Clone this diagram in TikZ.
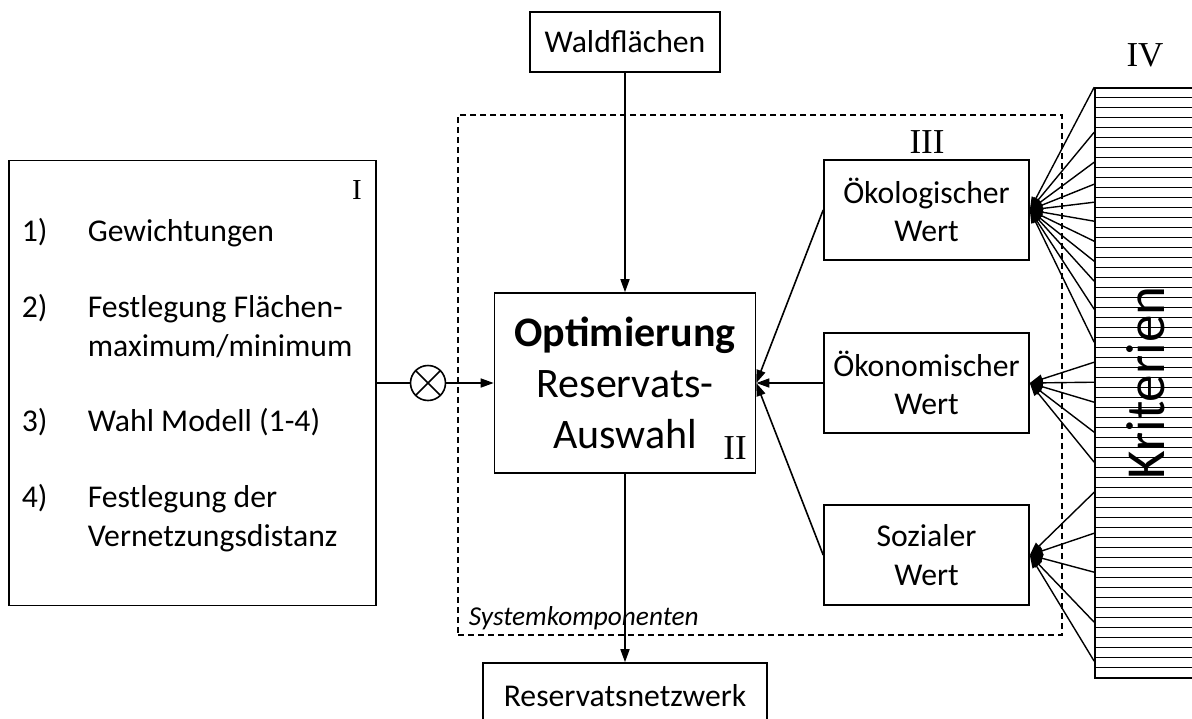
\documentclass[tikz,border=0pt]{standalone}
\usepackage{fontspec}
\setmainfont{Carlito}
\newfontfamily\romfont{Liberation Serif}
\usetikzlibrary{arrows.meta,positioning}
\definecolor{ink}{HTML}{000000}
\newcommand{\txtsize}{\fontsize{31.7}{38.7}\selectfont}
\newcommand{\bigsize}{\fontsize{42}{51}\selectfont}
\tikzset{
  >={Triangle[length=13pt,width=9pt]},
  every picture/.style={line width=1.6pt,draw=ink},
  bx/.style={draw=ink,rectangle,inner sep=0pt,align=center,font=\txtsize},
  valbx/.style={bx,minimum width=205pt,minimum height=100pt},
  num/.style={font=\romfont\fontsize{35}{35}\selectfont,inner sep=0pt},
  arr/.style={->,draw=ink},
  fan/.style={->,draw=ink,line width=1.4pt},
  stripe/.style={draw=ink,line width=1.2pt},
  sysbox/.style={draw=ink,line width=1.2pt,dash pattern=on 6pt off 4pt},
}

\begin{document}
\begin{tikzpicture}[x=1pt,y=-1pt]
  \useasboundingbox (0,0) rectangle (1192,718);
  % system frame
  \node[sysbox,minimum width=604pt,minimum height=520pt] (system) at (760,375) {};
  \node[font=\itshape\fontsize{27.3}{30}\selectfont,anchor=base west,inner sep=0pt] (syslab) at (468,625) {Systemkomponenten};

  % input, core, output
  \node[bx,minimum width=190pt,minimum height=60pt] (wald) at (625,42) {Waldflächen};
  \node[bx,minimum width=261pt,minimum height=180pt,font=\bigsize] (opt) at (625,383) {\textbf{Optimierung}\\Reservats-\\Auswahl};
  \node[bx,minimum width=284pt,minimum height=66pt] (netz) at (625,696) {Reservatsnetzwerk};

  % parameters
  \node[bx,minimum width=367pt,minimum height=445pt] (param) at (192.5,383) {};
  \node[anchor=north west,inner sep=0pt,font=\txtsize] (liste) at (21,214) {%
    \begin{tabular}{@{}p{66pt}@{}l@{}}
      1) & Gewichtungen\\[37pt]
      2) & Festlegung Flächen-\\
         & maximum/minimum\\[37pt]
      3) & Wahl Modell (1-4)\\[37pt]
      4) & Festlegung der\\
         & Vernetzungsdistanz
    \end{tabular}};
  \node[draw=ink,circle,minimum size=35pt,inner sep=0pt,
    path picture={\draw (path picture bounding box.north west) -- (path picture bounding box.south east)
                        (path picture bounding box.north east) -- (path picture bounding box.south west);}] (mult) at (428,383) {};

  % values
  \node[valbx] (oeko) at (926.5,210) {Ökologischer\\Wert};
  \node[valbx] (oekon) at (926.5,383) {Ökonomischer\\Wert};
  \node[valbx] (sozial) at (926.5,555) {Sozialer\\Wert};

  % criteria
  \node[draw=ink,fill=white,minimum width=110pt,minimum height=590pt,inner sep=0pt] (krbox) at (1150,383) {};
  \foreach \i in {1,...,58}
    \draw[stripe] ([yshift={-\i*10pt}]krbox.north west) -- ++(110,0);
  \node[rotate=90,font=\fontsize{55}{55}\selectfont,inner sep=0pt] (krit) at (1146,383) {Kriterien};

  % labels
  \node[num,font=\romfont\fontsize{29}{29}\selectfont] (nI) at (357,190) {I};
  \node[num] (nII) at (735,448) {II};
  \node[num] (nIII) at (927,142) {III};
  \node[num] (nIV) at (1145,55) {IV};

  % connectors
  \draw[arr] (wald.south) -- (wald.south |- opt.north);
  \draw[arr] (opt.south) -- (opt.south |- netz.north);
  \draw (param.east) -- (mult.west);
  \draw[arr] (mult.east) -- (opt.west);
  \draw[arr] (oeko.west) -- (opt.east);
  \draw[arr] (oekon.west) -- (opt.east);
  \draw[arr] (sozial.west) -- (opt.east);
  \foreach \d in {0,45,75,97,115,134,154,174,194,222,255}
    \draw[fan] ([yshift={-\d pt}]krbox.north west) -- (oeko.east);
  \foreach \d in {275,295,315,345,375}
    \draw[fan] ([yshift={-\d pt}]krbox.north west) -- (oekon.east);
  \foreach \d in {405,446,485,535,574}
    \draw[fan] ([yshift={-\d pt}]krbox.north west) -- (sozial.east);
\end{tikzpicture}
\end{document}
